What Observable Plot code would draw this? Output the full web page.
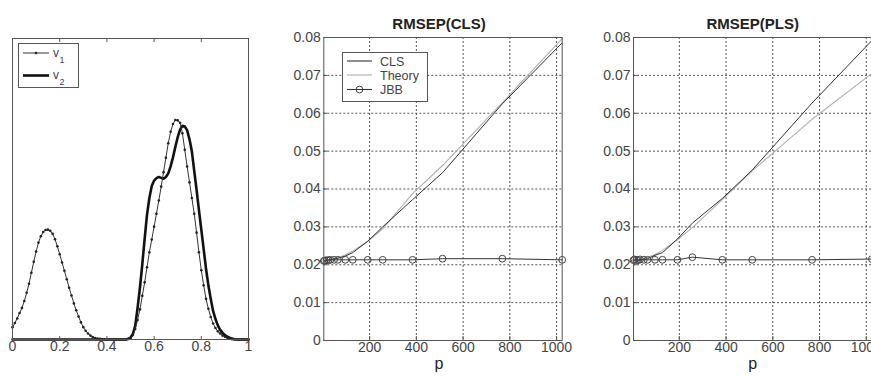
<!DOCTYPE html>
<html><head><meta charset="utf-8">
<script src="https://cdn.jsdelivr.net/npm/d3@7"></script>
<script src="https://cdn.jsdelivr.net/npm/@observablehq/plot@0.6"></script>
<style>
body{margin:0;background:#fff;}
#wrap{position:relative;width:871px;height:377px;overflow:hidden;background:#fff;}
#wrap > svg{position:absolute;top:0;}
</style></head><body><div id="wrap"></div>
<script>
// ---- Panel 1: spectra v1, v2 ----
const waveX = [0,0.01,0.02,0.03,0.04,0.05,0.06,0.07,0.08,0.09,
0.10,0.11,0.12,0.13,0.14,0.15,0.16,0.17,0.18,0.19,
0.20,0.21,0.22,0.23,0.24,0.25,0.26,0.27,0.28,0.29,
0.30,0.31,0.32,0.33,0.34,0.35,0.36,0.37,0.38,0.39,
0.40,0.41,0.42,0.43,0.44,0.45,0.46,0.47,0.48,0.49,
0.50,0.51,0.52,0.53,0.54,0.55,0.56,0.57,0.58,0.59,
0.60,0.61,0.62,0.63,0.64,0.65,0.66,0.67,0.68,0.69,
0.70,0.71,0.72,0.73,0.74,0.75,0.76,0.77,0.78,0.79,
0.80,0.81,0.82,0.83,0.84,0.85,0.86,0.87,0.88,0.89,
0.90,0.91,0.92,0.93,0.94,0.95,0.96,0.97,0.98,0.99,1.00];
const v1 = [0.041,0.055,0.070,0.088,0.105,0.128,0.155,0.185,0.222,0.258,
0.292,0.322,0.343,0.357,0.364,0.365,0.361,0.351,0.333,0.310,
0.283,0.256,0.228,0.200,0.172,0.146,0.120,0.097,0.076,0.057,
0.041,0.029,0.020,0.013,0.008,0.005,0.003,0.002,0.001,0,
0,0,0,0,0,0,0,0,0,0.002,
0.005,0.015,0.035,0.065,0.100,0.145,0.190,0.240,0.290,0.332,
0.375,0.418,0.462,0.508,0.556,0.604,0.652,0.690,0.716,0.729,
0.728,0.720,0.685,0.630,0.575,0.522,0.470,0.418,0.355,0.290,
0.230,0.180,0.135,0.102,0.075,0.053,0.038,0.027,0.020,0.013,
0.009,0.006,0.003,0.001,0,0,0,0,0,0,0];
const v2 = [0,0,0,0,0,0,0,0,0,0,
0,0,0,0,0,0,0,0,0,0,
0,0,0,0,0,0,0,0,0,0,
0,0,0,0,0,0,0,0,0,0,
0,0,0,0,0,0,0,0,0,0.002,
0.006,0.018,0.045,0.105,0.172,0.250,0.335,0.415,0.470,0.510,
0.528,0.536,0.540,0.537,0.534,0.540,0.552,0.575,0.605,0.640,
0.672,0.697,0.710,0.708,0.695,0.665,0.625,0.560,0.497,0.430,
0.365,0.300,0.235,0.180,0.135,0.095,0.068,0.047,0.032,0.022,
0.015,0.009,0.006,0.003,0.001,0,0,0,0,0,0];
const waveTicks = [0,0.2,0.4,0.6,0.8,1];
const waveLegend = ["1","2"];

// ---- Panels 2 & 3: RMSEP vs p ----
const p = [4,8,16,24,32,48,64,96,128,192,256,384,512,768,1024];
const clsEst    = [0.0209,0.0210,0.0211,0.0212,0.0213,0.0215,0.0217,0.0223,0.0232,0.0262,0.0300,0.0372,0.0443,0.0625,0.0786];
const clsTheory = [0.0210,0.0211,0.0212,0.0213,0.0214,0.0216,0.0219,0.0226,0.0236,0.0262,0.0295,0.0388,0.0462,0.0628,0.0797];
const clsJBB    = [0.0210,0.0211,0.0212,0.0212,0.0213,0.0213,0.0213,0.0213,0.0213,0.0213,0.0213,0.0213,0.0216,0.0216,0.0213];
const plsEst    = [0.0210,0.0211,0.0212,0.0212,0.0213,0.0214,0.0216,0.0225,0.0232,0.0268,0.0310,0.0375,0.0450,0.0627,0.0792];
const plsTheory = [0.0210,0.0211,0.0212,0.0213,0.0214,0.0216,0.0219,0.0227,0.0238,0.0266,0.0298,0.0372,0.0448,0.0584,0.0705];
const plsJBB    = [0.0212,0.0214,0.0213,0.0212,0.0214,0.0213,0.0213,0.0213,0.0213,0.0213,0.0220,0.0213,0.0213,0.0213,0.0215];
const pTicks = [200,400,600,800,1000];
const rmseTicks = [0,0.01,0.02,0.03,0.04,0.05,0.06,0.07,0.08];
const rmseGrid = [0.01,0.02,0.03,0.04,0.05,0.06,0.07];
const seriesNames = ["CLS","Theory","JBB"];
const titles = ["RMSEP(CLS)","RMSEP(PLS)"];

const FONT = "'Liberation Sans', Arial, Helvetica, sans-serif";
const wrap = document.getElementById("wrap");

// Panel 1
const waveRows = waveX.map((x,i)=>({x, v1:v1[i], v2:v2[i]}));
const p1 = Plot.plot({
  width: 260, height: 377,
  marginLeft: 12, marginRight: 12, marginTop: 38, marginBottom: 38,
  x: {domain: [0,1]}, y: {domain: [0,1], axis: null},
  style: {fontFamily: FONT, fontSize: "14px", color: "#444", background: "transparent", overflow: "visible"},
  marks: [
    Plot.line(waveRows, {x:"x", y:"v2", stroke:"#111", strokeWidth:2.6}),
    Plot.line(waveRows, {x:"x", y:"v1", stroke:"#333", strokeWidth:1}),
    Plot.dot(waveRows, {x:"x", y:"v1", r:1.3, fill:"#222", stroke:"none"}),
    Plot.frame({stroke:"#555"}),
    Plot.axisX(waveTicks, {anchor:"bottom", tickSize:-3, tickPadding:5, tickFormat:d=>String(d), label:null, stroke:"#555"}),
    Plot.axisX(waveTicks, {anchor:"top", tickSize:-3, fill:"none", label:null, stroke:"#555"})
  ]
});
p1.style.left = "0px";
wrap.appendChild(p1);
{
  const g = d3.select(p1).append("g").attr("font-family", FONT).attr("fill", "#444").attr("text-anchor", "start");
  g.append("rect").attr("x",18.5).attr("y",43.5).attr("width",60).attr("height",44).attr("fill","#fff").attr("stroke","#555");
  g.append("line").attr("x1",23).attr("x2",49).attr("y1",53).attr("y2",53).attr("stroke","#333");
  g.append("circle").attr("cx",36).attr("cy",53).attr("r",1.3).attr("fill","#222");
  g.append("line").attr("x1",23).attr("x2",49).attr("y1",75.5).attr("y2",75.5).attr("stroke","#111").attr("stroke-width",2.6);
  [[56.5,waveLegend[0]],[79,waveLegend[1]]].forEach(([yb,s])=>{
    g.append("text").attr("x",53).attr("y",yb).attr("font-size",12).text("v");
    g.append("text").attr("x",59.5).attr("y",yb+6).attr("font-size",9).text(s);
  });
}

function rmsePlot(left, title, est, theory, jbb, dxTitle) {
  const rows = p.map((d,i)=>({p:d, est:est[i], theory:theory[i], jbb:jbb[i]}));
  const ml = left === 270 ? 53.3 : 53;
  const svg = Plot.plot({
    width: 300, height: 377,
    marginLeft: ml, marginRight: 300 - ml - 238.4, marginTop: 37, marginBottom: 37,
    x: {domain: [p[0], p[p.length-1]]}, y: {domain: [0, 0.08]},
    style: {fontFamily: FONT, fontSize: "14px", color: "#444", background: "transparent", overflow: "visible"},
    marks: [
      Plot.gridX(pTicks, {stroke:"#555", strokeOpacity:1, strokeDasharray:"2,2"}),
      Plot.gridY(rmseGrid, {stroke:"#555", strokeOpacity:1, strokeDasharray:"2,2"}),
      Plot.line(rows, {x:"p", y:"theory", stroke:"#b0b0b0", strokeWidth:1.1}),
      Plot.line(rows, {x:"p", y:"est", stroke:"#333", strokeWidth:1}),
      Plot.line(rows, {x:"p", y:"jbb", stroke:"#333", strokeWidth:1}),
      Plot.dot(rows, {x:"p", y:"jbb", r:3.4, stroke:"#444", strokeWidth:1, fill:"none"}),
      Plot.frame({stroke:"#555"}),
      Plot.axisX(pTicks, {anchor:"bottom", tickSize:-4, tickPadding:6, tickFormat:d=>String(d), label:null, stroke:"#555"}),
      Plot.axisY(rmseTicks, {anchor:"left", tickSize:-4, tickPadding:7, tickFormat:d=>d===0?"0":d.toFixed(2), label:null, stroke:"#555"}),
      Plot.text([title], {frameAnchor:"top", dx:dxTitle, dy:-9, lineAnchor:"bottom", fontSize:15, fontWeight:"bold", fill:"#222"}),
      Plot.text(["p"], {frameAnchor:"bottom", dx:dxTitle, dy:23.4, lineAnchor:"middle", fontSize:16, fill:"#222"})
    ]
  });
  svg.style.left = left + "px";
  wrap.appendChild(svg);
  return svg;
}

const p2 = rmsePlot(270, titles[0], clsEst, clsTheory, clsJBB, -4);
const p3 = rmsePlot(580, titles[1], plsEst, plsTheory, plsJBB, 0);

{
  const ox = 270;
  const g = d3.select(p2).append("g").attr("font-family", FONT).attr("fill", "#444").attr("font-size", 12.5).attr("text-anchor", "start");
  g.append("rect").attr("x",342.5-ox).attr("y",52.5).attr("width",85).attr("height",49).attr("fill","#fff").attr("stroke","#555");
  const ys = [61, 75, 89.5];
  const strokes = ["#333","#b0b0b0","#333"];
  seriesNames.forEach((name,i)=>{
    g.append("line").attr("x1",347-ox).attr("x2",372-ox).attr("y1",ys[i]).attr("y2",ys[i]).attr("stroke",strokes[i]).attr("stroke-width",1.1);
    g.append("text").attr("x",380-ox).attr("y",ys[i]+4.5).text(name);
  });
  g.append("circle").attr("cx",359.5-ox).attr("cy",ys[2]).attr("r",3.4).attr("fill","none").attr("stroke","#444");
}
</script></body></html>
